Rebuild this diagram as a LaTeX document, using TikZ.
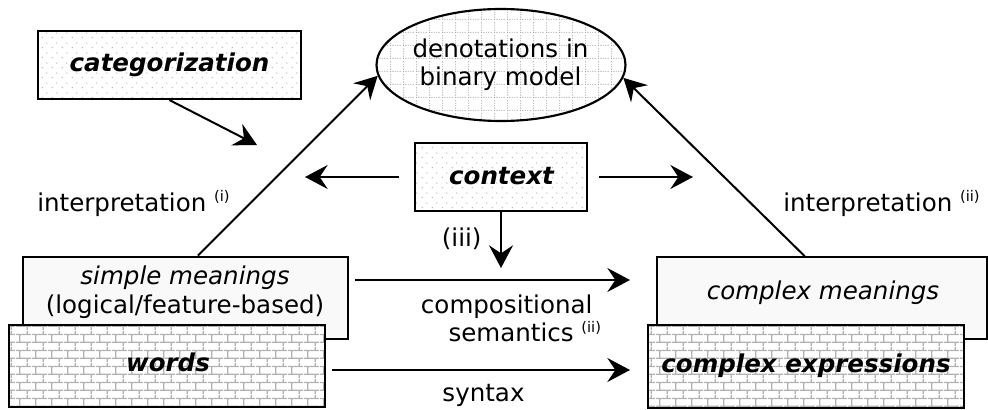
\documentclass[tikz,border=0pt]{standalone}
\usepackage{fontspec}
\setmainfont{DejaVu Sans}
\usetikzlibrary{arrows.meta,patterns,calc,shapes.geometric}

\pgfdeclarepatternformonly{mybricks}{\pgfqpoint{0pt}{0pt}}{\pgfqpoint{12pt}{12pt}}{\pgfqpoint{12pt}{12pt}}{%
  \pgfsetlinewidth{1pt}%
  \pgfpathmoveto{\pgfqpoint{0pt}{3pt}}\pgfpathlineto{\pgfqpoint{12pt}{3pt}}%
  \pgfpathmoveto{\pgfqpoint{0pt}{9pt}}\pgfpathlineto{\pgfqpoint{12pt}{9pt}}%
  \pgfpathmoveto{\pgfqpoint{3pt}{3pt}}\pgfpathlineto{\pgfqpoint{3pt}{9pt}}%
  \pgfpathmoveto{\pgfqpoint{9pt}{9pt}}\pgfpathlineto{\pgfqpoint{9pt}{12pt}}%
  \pgfpathmoveto{\pgfqpoint{9pt}{0pt}}\pgfpathlineto{\pgfqpoint{9pt}{3pt}}%
  \pgfusepath{stroke}}

\pgfdeclarepatternformonly{mydots}{\pgfqpoint{0pt}{0pt}}{\pgfqpoint{7.5pt}{7.5pt}}{\pgfqpoint{7.5pt}{7.5pt}}{%
  \pgfpathcircle{\pgfqpoint{1.875pt}{1.875pt}}{0.6pt}%
  \pgfpathcircle{\pgfqpoint{5.625pt}{5.625pt}}{0.6pt}%
  \pgfusepath{fill}}

\pgfdeclarepatternformonly{mygrid}{\pgfqpoint{0pt}{0pt}}{\pgfqpoint{9.75pt}{9.75pt}}{\pgfqpoint{9.75pt}{9.75pt}}{%
  \pgfsetlinewidth{0.7pt}%
  \pgfsetdash{{0.7pt}{1.25pt}}{0pt}%
  \pgfpathmoveto{\pgfqpoint{0.5pt}{0pt}}\pgfpathlineto{\pgfqpoint{0.5pt}{9.75pt}}%
  \pgfpathmoveto{\pgfqpoint{0pt}{0.5pt}}\pgfpathlineto{\pgfqpoint{9.75pt}{0.5pt}}%
  \pgfusepath{stroke}}

\tikzset{
  boxbase/.style={draw=black, line width=1.6pt, inner sep=0pt, rectangle},
  dotbox/.style={boxbase, preaction={fill=white}, pattern=mydots, pattern color=gray!55},
  brickbox/.style={boxbase, preaction={fill=white}, pattern=mybricks, pattern color=gray!60},
  plainbox/.style={boxbase, fill=gray!5},
  gridell/.style={ellipse, draw=black, line width=1.6pt, inner sep=0pt, preaction={fill=white}, pattern=mygrid, pattern color=gray!70},
  conn/.style={line width=1.5pt, -{Stealth[length=17pt,width=18pt,inset=6pt]}},
  lbl/.style={inner sep=0pt, anchor=base}
}
\newcommand{\mysupx}[1]{\raisebox{7pt}{\fontsize{11}{11}\selectfont #1}}

\begin{document}
\begin{tikzpicture}[x=0.75pt,y=-0.75pt, font=\fontsize{18.4}{21}\selectfont]
\useasboundingbox (0,0) rectangle (988,410);

% boxes
\node[dotbox, minimum width=197.25pt, minimum height=51pt] (cat) at (169.5,65) {};
\node[gridell, minimum width=186.75pt, minimum height=84pt] (den) at (501,65) {};
\node[dotbox, minimum width=129pt, minimum height=51pt] (ctx) at (501,177) {};
\node[plainbox, minimum width=244.2pt, minimum height=62pt] (sm) at (185.5,298) {};
\node[brickbox, minimum width=236.8pt, minimum height=61.3pt] (words) at (167.2,365.8) {};
\node[plainbox, minimum width=247.5pt, minimum height=61.3pt] (cm) at (821.7,298.2) {};
\node[brickbox, minimum width=237.5pt, minimum height=62.5pt] (ce) at (806,366.7) {};

% texts
\node[lbl] (catt) at (169.5,72) {\bfseries\itshape categorization};
\node[lbl, align=center] (dent) at (500.5,85.5) {denotations in\\binary model};
\node[lbl] (ctxt) at (501.5,184) {\bfseries\itshape context};
\node[lbl, align=center, font=\fontsize{18.4}{21.3}\selectfont] (smt) at (185,313) {\itshape simple meanings\\(logical/feature-based)};
\node[lbl] (wordst) at (168,371.5) {\bfseries\itshape words};
\node[lbl] (cmt) at (823,299) {\itshape complex meanings};
\node[lbl] (cet) at (806,372) {\bfseries\itshape complex expressions};
\node[lbl, anchor=base west] (int1) at (37,211) {interpretation \mysupx{(i)}};
\node[lbl, anchor=base west] (int2) at (783,211) {interpretation \mysupx{(ii)}};
\node[lbl] (iii) at (461.7,246) {(iii)};
\node[lbl] (comp) at (506.7,313.3) {compositional};
\node[lbl, anchor=base west] (sem) at (448.3,341.7) {semantics \mysupx{(ii)}};
\node[lbl] (syn) at (483.5,401.7) {syntax};

% free ends
\coordinate (catend) at (257,145);
\coordinate (ctxl) at (305,177);
\coordinate (ctxr) at (693,177);
\coordinate (ctxd) at (501,268);
\coordinate (cs) at (355,280);
\coordinate (csend) at (630,280);
\coordinate (sy) at (331.7,370);
\coordinate (syend) at (630,370);

% connectors
\draw[conn] (cat.south) -- (catend);
\draw[conn] ($(sm.north west)!0.538!(sm.north east)$) -- (den.185);
\draw[conn] ($(cm.north west)!0.449!(cm.north east)$) -- (den.354);
\draw[conn] ([xshift=-11pt]ctx.west) -- (ctxl);
\draw[conn] ([xshift=8pt]ctx.east) -- (ctxr);
\draw[conn] (ctx.south) -- (ctxd);
\draw[conn] (cs) -- (csend);
\draw[conn] (sy) -- (syend);
\end{tikzpicture}
\end{document}
